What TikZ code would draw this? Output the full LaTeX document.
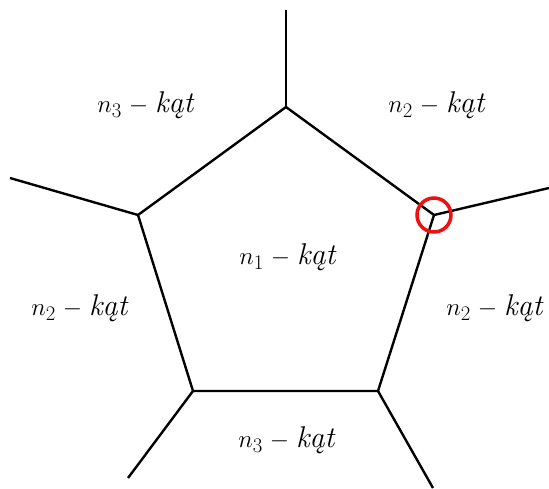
\documentclass[tikz,border=0pt]{standalone}
\usepackage{fontspec}
\usepackage{tikz}
\usetikzlibrary{positioning}
\definecolor{mark}{HTML}{EE1111}

\tikzset{
  edge/.style={line width=2.4pt},
  lab/.style={font=\fontsize{30}{36}\selectfont, inner sep=0pt}
}

\begin{document}
\begin{tikzpicture}[x=1pt, y=-1pt]
  \useasboundingbox (0,0) rectangle (549,488);
  % vertices of the pentagon
  \coordinate (vt) at (286,107);
  \coordinate (vr) at (434,215);
  \coordinate (vbr) at (378,391);
  \coordinate (vbl) at (193,391);
  \coordinate (vl) at (138,215);
  % free ends
  \coordinate (et) at (286,10);
  \coordinate (er) at (549,188);
  \coordinate (ebr) at (433,488);
  \coordinate (ebl) at (128,478);
  \coordinate (el) at (10,178);
  \draw[edge, line join=round] (vt) -- (vr) -- (vbr) -- (vbl) -- (vl) -- cycle;
  \foreach \v/\e in {vt/et,vr/er,vbr/ebr,vbl/ebl,vl/el} {
    \draw[edge] (\v) -- (\e);
  }
  \node[lab] (c) at (288,257) {$n_1\;-\;$\textit{kąt}};
  \node[lab] (tl) at (146,105) {$n_3\;-\;$\textit{kąt}};
  \node[lab] (tr) at (437,105) {$n_2\;-\;$\textit{kąt}};
  \node[lab] (ml) at (80,308) {$n_2\;-\;$\textit{kąt}};
  \node[lab] (mr) at (495,308) {$n_2\;-\;$\textit{kąt}};
  \node[lab] (bm) at (287,440) {$n_3\;-\;$\textit{kąt}};
  \node[circle, draw=mark, line width=3.5pt, minimum size=34pt, inner sep=0pt] (ring) at (vr) {};
\end{tikzpicture}
\end{document}
